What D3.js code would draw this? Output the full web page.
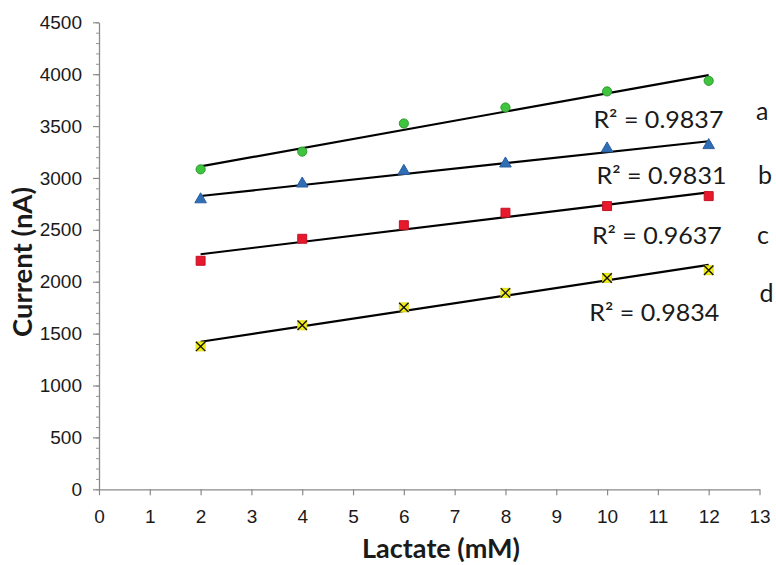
<!DOCTYPE html>
<html>
<head>
<meta charset="utf-8">
<script src="https://cdn.jsdelivr.net/npm/d3@7"></script>
<style>
  body { margin: 0; background: #fff; }
  .lbl { font-family: Lato, "Open Sans", sans-serif; fill: #1a1a1a; }
</style>
</head>
<body>
<div id="chart"></div>
<script>
// data
const lactate = [2, 4, 6, 8, 10, 12];
const seriesA = [3083, 3254, 3525, 3679, 3834, 3936];
const seriesB = [2793, 2945, 3067, 3138, 3283, 3315];
const seriesC = [2202, 2414, 2545, 2665, 2729, 2825];
const seriesD = [1377, 1580, 1753, 1893, 2037, 2111];
const seriesNames = ["a", "b", "c", "d"];
const r2Labels = ["R² = 0.9837", "R² = 0.9831", "R² = 0.9637", "R² = 0.9834"];
const xTicks = d3.range(0, 14);
const yTicks = d3.range(0, 4501, 500);

const width = 776, height = 565;
const x = d3.scaleLinear().domain([0, 13]).range([99, 759.5]);
const y = d3.scaleLinear().domain([0, 4500]).range([489.3, 22.3]);

// marker look per series
const styles = [
  {shape: d3.symbolCircle, size: 66, fill: "#3fc43f", stroke: "#2a9a2a"},
  {shape: d3.symbolTriangle, size: 58, fill: "#2f6db5", stroke: "#2a5f9e"},
  {shape: d3.symbolSquare, size: 80, fill: "#e8192c", stroke: "#c21224"},
  {shape: d3.symbolSquare, size: 80, fill: "#f3ef12", stroke: "#e0dc10", cross: true}
];
// label anchors in data units (x, y)
const r2Pos = [[12.29, 3484], [12.35, 2942], [12.26, 2361], [12.21, 1625]];
const letterPos = [[12.93, 3558], [12.97, 2942], [12.95, 2364], [13.0, 1808]];

const series = [seriesA, seriesB, seriesC, seriesD].map((vals, i) => ({
  name: seriesNames[i],
  points: lactate.map((xv, j) => ({x: xv, y: vals[j]}))
}));

// least squares fit
function fit(points){
  const mx = d3.mean(points, p => p.x), my = d3.mean(points, p => p.y);
  const sxy = d3.sum(points, p => (p.x - mx) * (p.y - my));
  const sxx = d3.sum(points, p => (p.x - mx) * (p.x - mx));
  const m = sxy / sxx;
  return xv => my + m * (xv - mx);
}

const svg = d3.select("#chart").append("svg")
  .attr("width", width).attr("height", height);

// minor ticks on y
svg.append("g")
  .attr("transform", `translate(${x(0)},0)`)
  .call(d3.axisLeft(y).ticks(45).tickSize(3).tickFormat(""))
  .call(g => g.select(".domain").remove())
  .selectAll("line").attr("stroke", "#999");

// axes
const fmt = d3.format("d");
const yAxis = svg.append("g")
  .attr("transform", `translate(${x(0)},0)`)
  .call(d3.axisLeft(y).tickValues(yTicks).tickFormat(fmt).tickSize(6).tickPadding(11).tickSizeOuter(0));
const xAxis = svg.append("g")
  .attr("transform", `translate(0,${y(0)})`)
  .call(d3.axisBottom(x).tickValues(xTicks).tickFormat(fmt).tickSize(6).tickPadding(14).tickSizeOuter(0));
[xAxis, yAxis].forEach(g => {
  g.select(".domain").attr("stroke", "#8a8a8a").attr("stroke-width", 1.3);
  g.selectAll(".tick line").attr("stroke", "#8a8a8a").attr("stroke-width", 1.2);
  g.selectAll(".tick text")
    .style("font-family", "'Liberation Sans', Arial, sans-serif")
    .style("font-size", "19px")
    .attr("fill", "#1a1a1a");
});

// trend lines
series.forEach(s => {
  const f = fit(s.points);
  const x0 = d3.min(lactate), x1 = d3.max(lactate);
  svg.append("line")
    .attr("x1", x(x0)).attr("y1", y(f(x0)))
    .attr("x2", x(x1)).attr("y2", y(f(x1)))
    .attr("stroke", "#000").attr("stroke-width", 2.2);
});

// markers
series.forEach((s, i) => {
  const st = styles[i];
  const g = svg.append("g");
  g.selectAll("path.m").data(s.points).join("path")
    .attr("class", "m")
    .attr("transform", d => `translate(${x(d.x)},${y(d.y)})`)
    .attr("d", d3.symbol(st.shape, st.size))
    .attr("fill", st.fill).attr("stroke", st.stroke).attr("stroke-width", 1);
  if(st.cross){
    g.selectAll("path.c").data(s.points).join("path")
      .attr("class", "c")
      .attr("transform", d => `translate(${x(d.x)},${y(d.y)})`)
      .attr("d", d3.symbol(d3.symbolTimes, 60))
      .attr("fill", "none").attr("stroke", "#111").attr("stroke-width", 1.4);
  }
});

// R² and series letters
r2Labels.forEach((t, i) => {
  svg.append("text").attr("class", "lbl")
    .attr("x", x(r2Pos[i][0])).attr("y", y(r2Pos[i][1]))
    .attr("text-anchor", "end")
    .attr("font-size", 24)
    .attr("textLength", 130).attr("lengthAdjust", "spacingAndGlyphs")
    .text(t);
  svg.append("text").attr("class", "lbl")
    .attr("x", x(letterPos[i][0])).attr("y", y(letterPos[i][1]))
    .attr("font-size", 25)
    .text(seriesNames[i]);
});

// axis titles
svg.append("text").attr("class", "lbl")
  .attr("transform", "translate(32,262) rotate(-90)")
  .attr("text-anchor", "middle")
  .attr("font-size", 26).attr("font-weight", 700)
  .attr("textLength", 150).attr("lengthAdjust", "spacingAndGlyphs")
  .text("Current (nA)");
svg.append("text").attr("class", "lbl")
  .attr("x", 441).attr("y", 558)
  .attr("text-anchor", "middle")
  .attr("font-size", 27).attr("font-weight", 700)
  .attr("textLength", 158).attr("lengthAdjust", "spacingAndGlyphs")
  .text("Lactate (mM)");
</script>
</body>
</html>
